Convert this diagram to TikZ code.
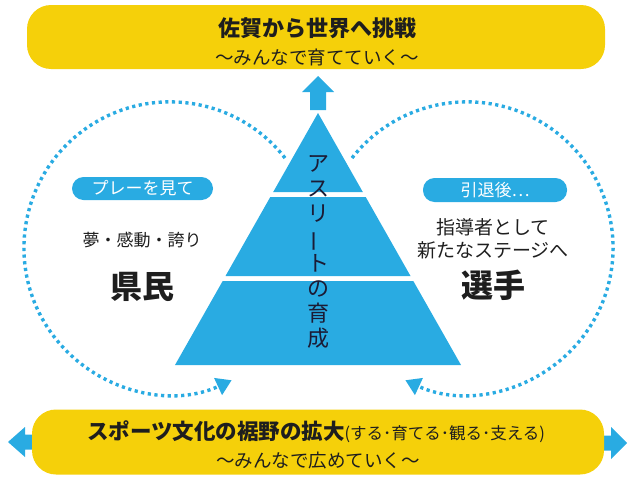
\documentclass[tikz,border=0pt]{standalone}
\usepackage{fontspec}
\newfontfamily\jp{Noto Sans CJK JP}
\usetikzlibrary{arrows.meta}
\definecolor{myblue}{RGB}{41,171,226}
\definecolor{myyellow}{RGB}{245,208,10}
\definecolor{ink}{RGB}{30,30,30}
\tikzset{
  ybox/.style={fill=myyellow, rounded corners=24pt, inner sep=0pt},
  bluepill/.style={fill=myblue, rounded corners=11.5pt, inner sep=0pt, text=white},
  txt/.style={text=ink, inner sep=0pt, align=center},
  dots/.style={draw=myblue, line width=3.4pt, dash pattern=on 3.2pt off 3.5pt,
    -{Triangle[length=15pt,width=18pt,fill=myblue]}},
  tier/.style={fill=myblue},
  blockarrow/.style={fill=myblue},
}
\begin{document}
\begin{tikzpicture}[x=1pt,y=-1pt]
\useasboundingbox (0,0) rectangle (628,479);

% side arrows behind bottom box
\fill[blockarrow] (8,442) -- (25,427) -- (25,434.5) -- (45,434.5) -- (45,449.5) -- (25,449.5) -- (25,457) -- cycle;
\fill[blockarrow] (627,443) -- (611,427) -- (611,435.5) -- (590,435.5) -- (590,450.5) -- (611,450.5) -- (611,459) -- cycle;

% yellow boxes
\node[ybox, minimum width=578pt, minimum height=64pt] (topbox) at (316,37) {};
\node[ybox, minimum width=572pt, minimum height=65pt] (botbox) at (318,442) {};

\node[txt, font={\jp\bfseries\fontsize{22}{26}\selectfont}] (title) at (317,28) {佐賀から世界へ挑戦};
\node[txt, font={\jp\fontsize{18.5}{22}\selectfont}] (sub1) at (317,57) {〜みんなで育てていく〜};

\node[txt, font={\jp\fontsize{21.5}{26}\selectfont}] (bline) at (316,432)
  {{\bfseries スポーツ文化の裾野の拡大}{\fontsize{16.5}{20}\selectfont (する･育てる･観る･支える)}};
\node[txt, font={\jp\fontsize{18.5}{22}\selectfont}] (sub2) at (318,460) {〜みんなで広めていく〜};

% up arrow
\fill[blockarrow] (318,76) -- (334,92) -- (326,92) -- (326,110) -- (310,110) -- (310,92) -- (302,92) -- cycle;

% pyramid
\fill[tier] (318,113) -- (362.8,192) -- (273.2,192) -- cycle;
\fill[tier] (270.3,197) -- (365.7,197) -- (410.5,276) -- (225.5,276) -- cycle;
\fill[tier] (222.7,281) -- (413.3,281) -- (461,365) -- (175,365) -- cycle;

\node[txt, text=ink!90!blue, font={\jp\fontsize{22}{25}\selectfont}] (vert) at (318,252)
  {ア\\ス\\リ\\\rotatebox[origin=c]{90}{ー}\\ト\\の\\育\\成};

% dotted cycles
\coordinate (lstart) at (285,158);
\coordinate (rstart) at (352,158);
\draw[dots] (lstart) arc[start angle=-38, end angle=-295, radius=146];
\draw[dots] (rstart) arc[start angle=-142, end angle=115, radius=146];

% left group
\node[bluepill, minimum width=141pt, minimum height=23pt, font={\jp\fontsize{17}{20}\selectfont}] (lpill) at (142.5,188.5) {プレーを見て};
\node[txt, font={\jp\fontsize{17}{20}\selectfont}] (ltext) at (142,240) {夢・感動・誇り};
\node[txt, font={\jp\bfseries\fontsize{32}{36}\selectfont}] (kenmin) at (142,287) {県民};

% right group
\node[bluepill, minimum width=144pt, minimum height=24pt, font={\jp\fontsize{17}{20}\selectfont}] (rpill) at (495,190) {引退後⋯};
\node[txt, font={\jp\fontsize{19}{23}\selectfont}] (rtext) at (493,238.5) {指導者として\\[0pt]新たなステージへ};
\node[txt, font={\jp\bfseries\fontsize{32}{36}\selectfont}] (senshu) at (493,285) {選手};
\end{tikzpicture}
\end{document}
